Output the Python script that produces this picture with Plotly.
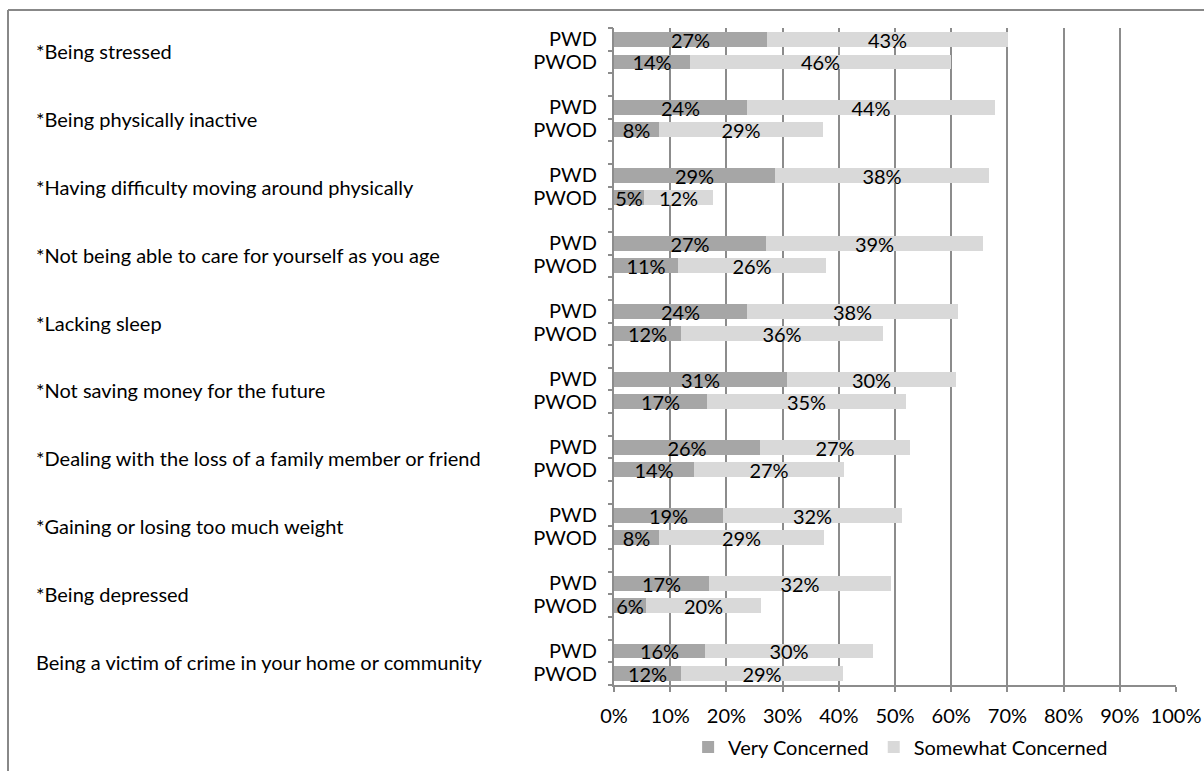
import plotly.graph_objects as go

categories = [
    "*Being stressed",
    "*Being physically inactive",
    "*Having difficulty moving around physically",
    "*Not being able to care for yourself as you age",
    "*Lacking sleep",
    "*Not saving money for the future",
    "*Dealing with the loss of a family member or friend",
    "*Gaining or losing too much weight",
    "*Being depressed",
    "Being a victim of crime in your home or community",
]
groups = ["PWD", "PWOD"]
very_pwd = [27.2, 23.7, 28.6, 27.0, 23.7, 30.8, 26.0, 19.4, 16.9, 16.2]
some_pwd = [42.9, 44.1, 38.1, 38.7, 37.5, 30.1, 26.7, 31.8, 32.4, 29.9]
very_pwod = [13.6, 8.0, 5.3, 11.4, 11.9, 16.6, 14.2, 8.0, 5.7, 12.0]
some_pwod = [46.4, 29.2, 12.3, 26.3, 36.0, 35.4, 26.7, 29.4, 20.4, 28.7]
x_ticks = list(range(0, 101, 10))
series_names = ["Very Concerned", "Somewhat Concerned"]
series_colors = ["#a6a6a6", "#d9d9d9"]

W, H = 1204, 771
ML, MR, MT, MB = 614, 28, 28, 86
FONT = "Lato, Carlito, Calibri, sans-serif"
FS = 20
GRID = "#8c8c8c"

# slot positions: each category occupies PWD, PWOD, then a blank slot
ypos, ytext, very_x, some_x = [], [], [], []
for g in range(len(categories)):
    ypos += [3 * g, 3 * g + 1]
    ytext += groups
    very_x += [very_pwd[g], very_pwod[g]]
    some_x += [some_pwd[g], some_pwod[g]]
n_slots = 3 * len(categories) - 1

fig = go.Figure()
for name, xs, col in zip(series_names, [very_x, some_x], series_colors):
    fig.add_trace(go.Bar(
        y=ypos, x=xs, orientation="h", name=name,
        marker=dict(color=col, line=dict(width=0)),
        width=0.66,
        texttemplate="%{x:.0f}%", textposition="inside",
        insidetextanchor="middle", constraintext="none", textangle=0,
        textfont=dict(family=FONT, size=FS, color="black"),
    ))

# boundary ticks on an overlaid axis
bounds = [i - 0.5 for i in range(n_slots + 1)]
fig.add_trace(go.Scatter(x=[None], y=[None], yaxis="y2", showlegend=False, hoverinfo="skip"))

pw = W - ML - MR
ph = H - MT - MB
for g, cat in enumerate(categories):
    fig.add_annotation(
        x=(34 - ML) / pw, xref="paper", y=3 * g + 0.5, yref="y",
        text=cat, showarrow=False, xanchor="left", yanchor="middle",
        font=dict(family=FONT, size=FS, color="black"),
    )

# chart frame (top and left edges)
fx = (8 - ML) / pw
fy = 1 + (MT - 10) / ph
fig.add_shape(type="line", xref="paper", yref="paper", x0=fx, x1=2, y0=fy, y1=fy,
              line=dict(color="#888888", width=2))
fig.add_shape(type="line", xref="paper", yref="paper", x0=fx, x1=fx, y0=fy, y1=-1,
              line=dict(color="#888888", width=2))

fig.update_layout(
    width=W, height=H,
    margin=dict(l=ML, r=MR, t=MT, b=MB, pad=0, autoexpand=False),
    paper_bgcolor="white", plot_bgcolor="white",
    barmode="stack", bargap=0,
    font=dict(family=FONT, size=FS, color="black"),
    xaxis=dict(
        range=[0, 100], tickvals=x_ticks, ticktext=[f"{v}%" for v in x_ticks],
        showgrid=True, gridcolor=GRID, gridwidth=2,
        showline=True, linecolor=GRID, linewidth=2,
        ticks="outside", ticklen=5, tickcolor=GRID, tickwidth=2,
        zeroline=False, ticklabelstandoff=7,
        tickfont=dict(family=FONT, size=FS, color="black"),
    ),
    yaxis=dict(
        range=[n_slots - 0.5, -0.5], tickvals=ypos, ticktext=ytext,
        showgrid=False, zeroline=False, showline=True, linecolor=GRID, linewidth=2,
        ticks="", ticklabelstandoff=11,
        tickfont=dict(family=FONT, size=FS, color="black"),
    ),
    yaxis2=dict(
        overlaying="y", matches="y", side="left", tickvals=bounds,
        showticklabels=False, ticks="outside", ticklen=5, tickcolor=GRID, tickwidth=2,
        showgrid=False, zeroline=False, showline=False,
    ),
    legend=dict(
        orientation="h", x=0.51, xanchor="center", y=(685 - 747) / ph, yanchor="middle",
        font=dict(family=FONT, size=FS, color="black"), traceorder="normal",
        itemclick=False,
    ),
)

fig.write_html(
    "out.html",
    config={"displayModeBar": False},
    post_script="document.body.style.margin='0';document.body.style.overflow='hidden';",
)
